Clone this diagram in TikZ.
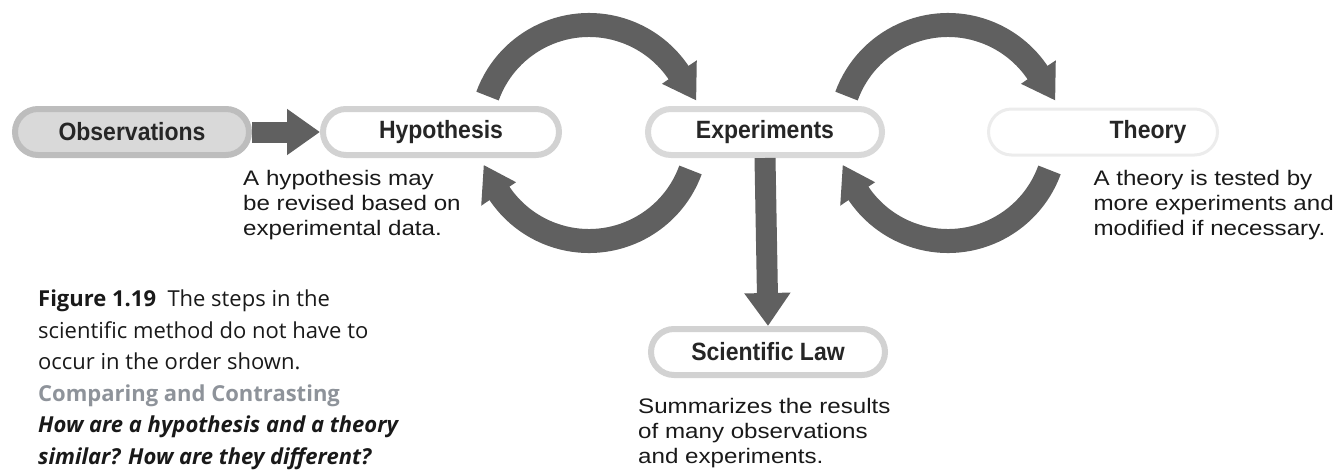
\documentclass[tikz,border=0pt]{standalone}
\usepackage{fontspec}
\setmainfont{Liberation Sans}
\newfontfamily\bodyfont[FakeStretch=1.15]{Liberation Sans}
\newfontfamily\labelfont[FakeStretch=0.92]{Liberation Sans}
\newfontfamily\capfont{Open Sans}
\usetikzlibrary{arrows.meta,calc}
\definecolor{arrowgray}{HTML}{606060}
\definecolor{cmpgray}{HTML}{8E939A}
\begin{document}
\begin{tikzpicture}[x=1pt,y=1pt,
  pill/.style={rounded corners=23pt, minimum height=46pt, line width=6pt,
    inner sep=0pt, font=\labelfont\bfseries\fontsize{25}{28}\selectfont, text=black!85},
  lbl/.style={inner sep=0pt, font=\labelfont\bfseries\fontsize{25}{28}\selectfont, text=black!85},
  blockarrow/.style={draw=arrowgray, line width=21pt,
    -{Triangle[width=44pt,length=33pt]}},
  arcbody/.style={draw=arrowgray, line width=24pt},
  arcfill/.style={fill=arrowgray},
  bodytxt/.style={inner sep=0pt, align=left, font=\bodyfont\fontsize{21}{25}\selectfont, text=black!90},
  captxt/.style={inner sep=0pt, align=left, font=\capfont\fontsize{22}{31.5}\selectfont, text=black!90},
  cyc/.pic={
    \draw[arcbody] (160:108pt) arc[start angle=160,end angle=33,radius=108pt];
    \fill[arcfill] (34:88pt) -- (34:130pt) -- (17:112pt) -- cycle;
    \draw[arcbody] (-20:108pt) arc[start angle=-20,end angle=-147,radius=108pt];
    \fill[arcfill] (-146:88pt) -- (-146:130pt) -- (-163:110pt) -- cycle;
  }]
\useasboundingbox (0,0) rectangle (1335,-474);

% step pills
\node[pill, fill=gray!30, draw=gray!52, minimum width=234pt] (obs) at (132,-132) {Observations};
\node[pill, fill=white, draw=gray!35, minimum width=236pt] (hyp) at (441,-132) {Hypothesis};
\node[pill, fill=white, draw=gray!30, minimum width=234pt] (exp) at (765,-132) {Experiments};
\node[pill, fill=white, draw=gray!15, line width=3pt, minimum width=229pt] (theory) at (1103,-132) {};
\node[lbl] (theorylbl) at (1148,-132) {Theory};
\node[pill, fill=white, draw=gray!35, minimum width=234pt] (law) at (768,-352) {Scientific Law};

% straight block arrows
\draw[blockarrow] (obs.east) -- (hyp.west);
\draw[blockarrow] (exp.south) -- (law.north);

% cycling arrows
\coordinate (c1) at (589,-133);
\coordinate (c2) at (948,-133);
\pic (cycA) at (c1) {cyc};
\pic (cycB) at (c2) {cyc};

% explanatory texts
\node[bodytxt, anchor=north west] (hyptxt) at (243,-170) {A hypothesis may\\be revised based on\\experimental data.};
\node[bodytxt, anchor=north east] (theorytxt) at (1334,-170) {A theory is tested by\\more experiments and\\modified if necessary.};
\node[bodytxt, anchor=north west] (lawtxt) at (638,-398) {Summarizes the results\\of many observations\\and experiments.};

% caption
\node[captxt, anchor=north west] (cap) at (38,-290) {\textbf{Figure 1.19}\ \ The steps in the\\scientific method do not have to\\occur in the order shown.\\{\color{cmpgray}\bfseries Comparing and Contrasting}\\{\bfseries\itshape How are a hypothesis and a theory}\\{\bfseries\itshape similar? How are they different?}};
\end{tikzpicture}
\end{document}
